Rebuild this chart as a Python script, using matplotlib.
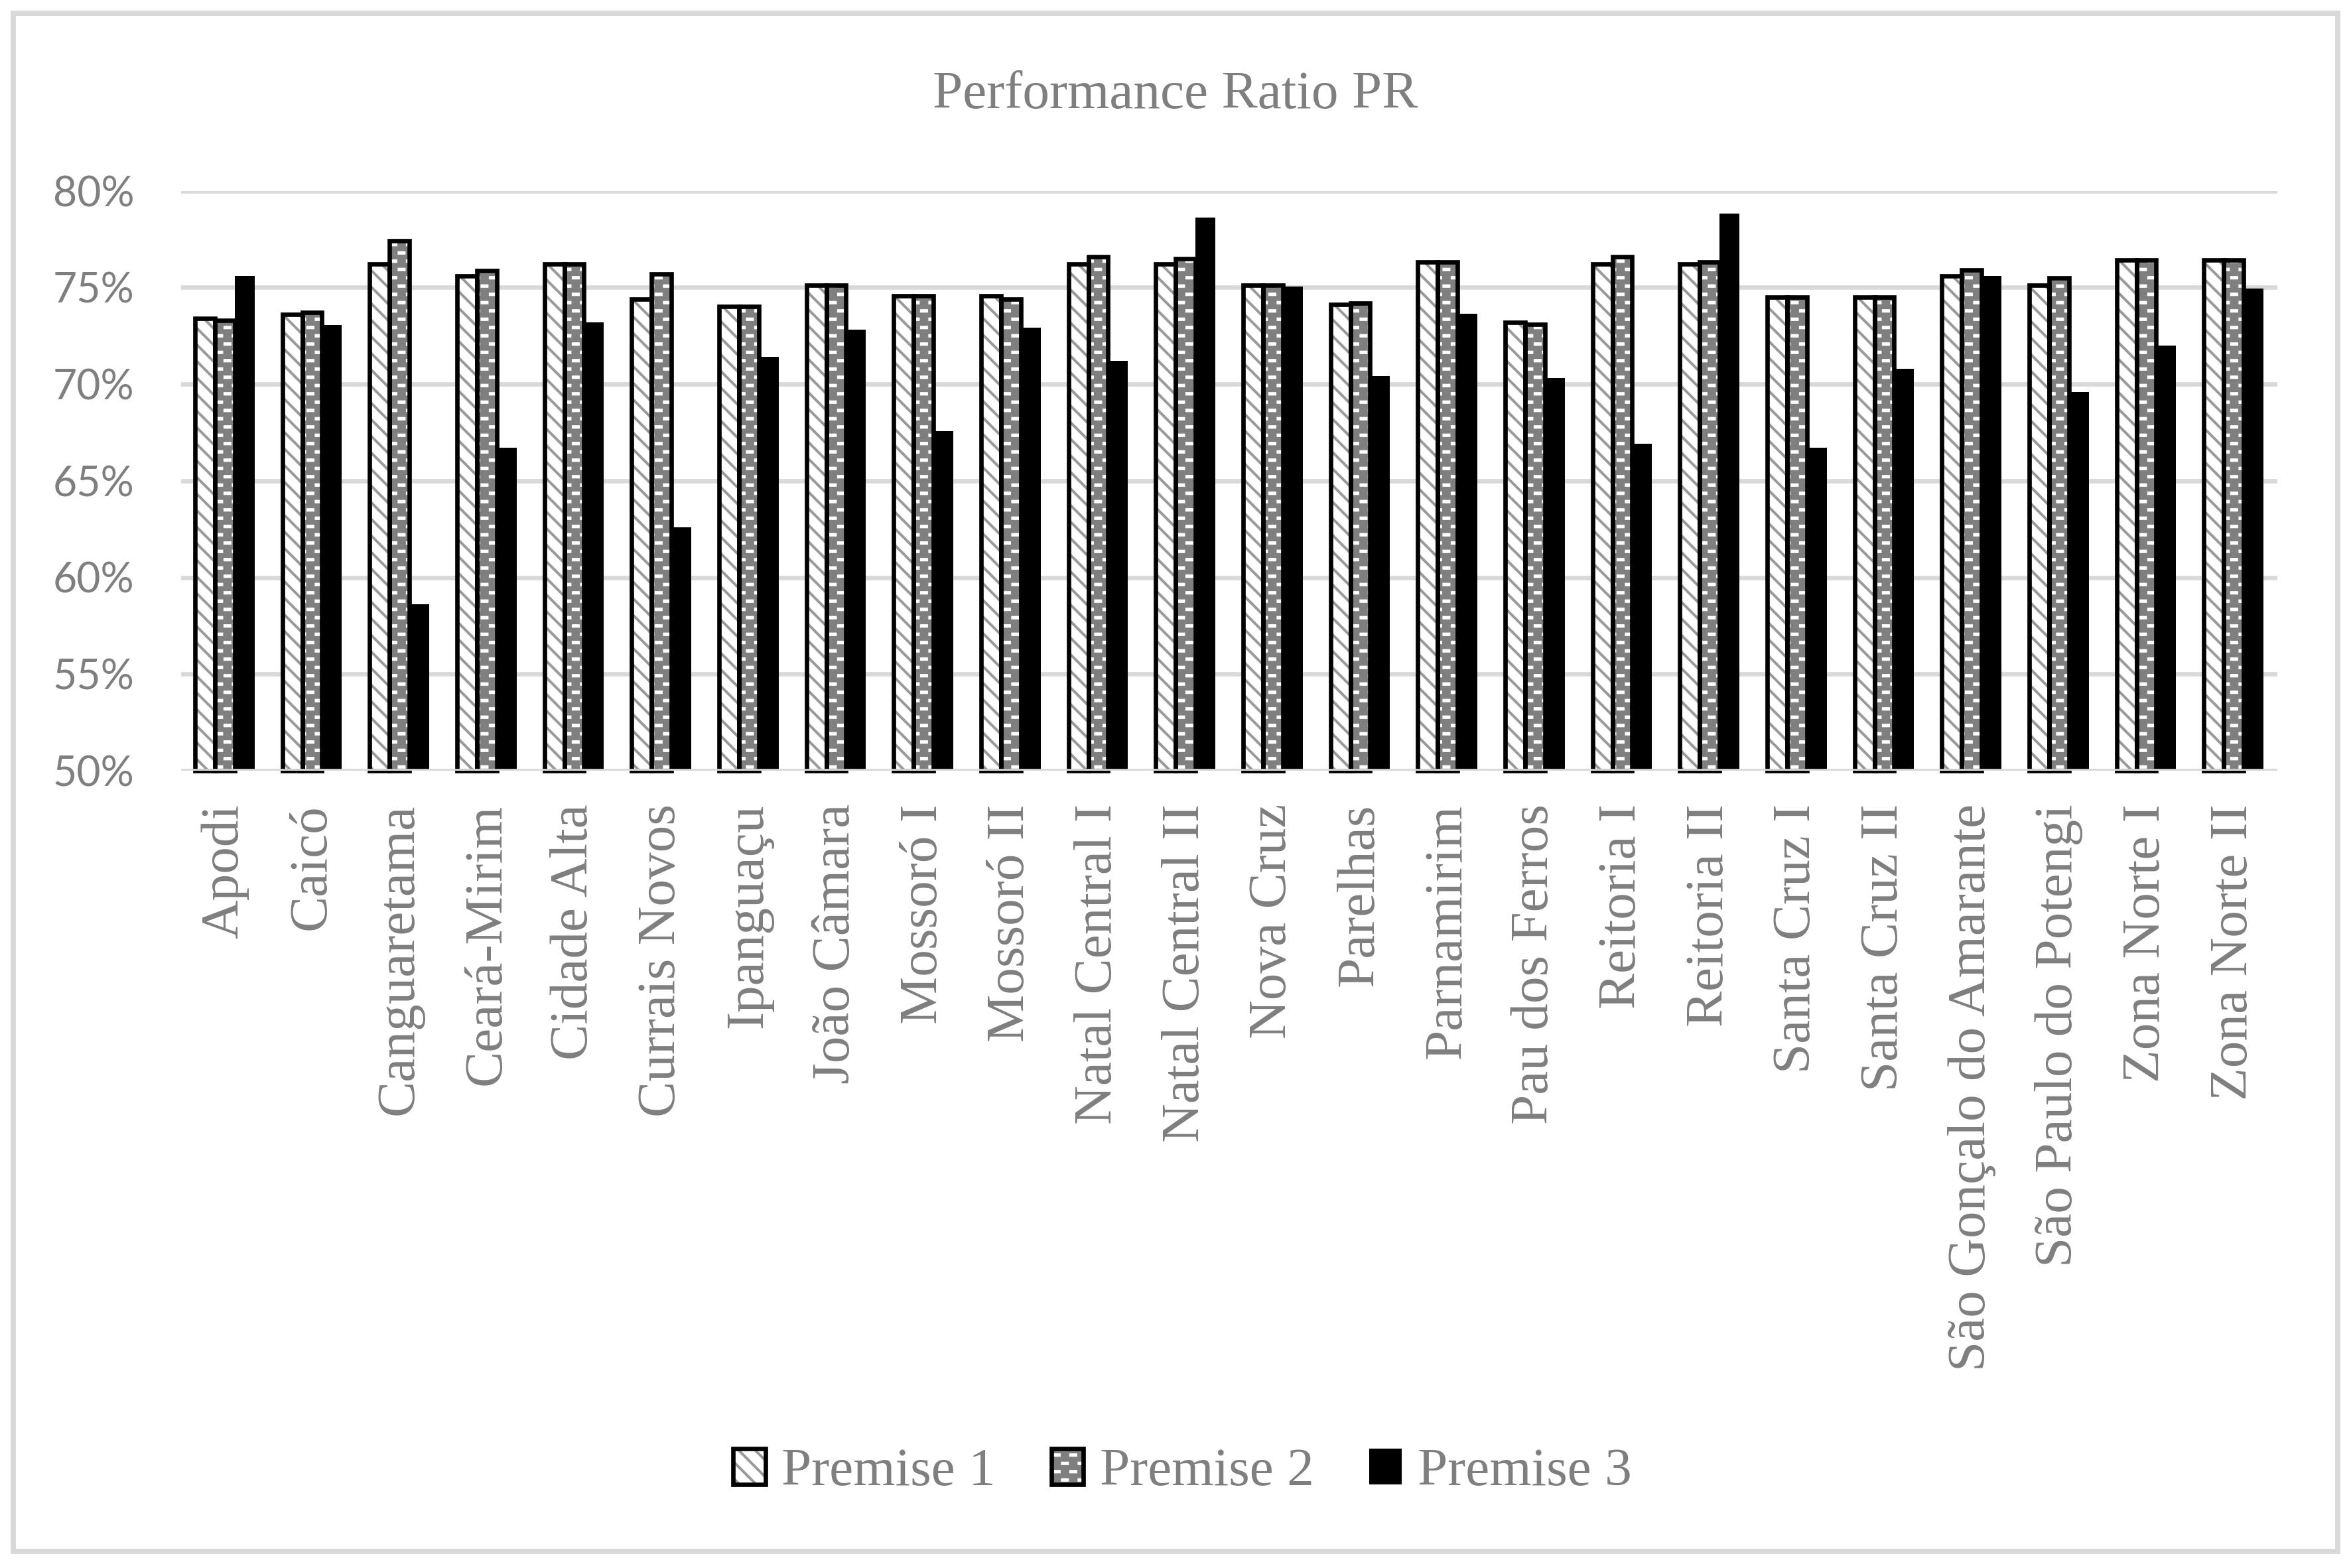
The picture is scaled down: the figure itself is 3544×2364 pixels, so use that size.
import matplotlib
matplotlib.use("Agg")
import matplotlib.pyplot as plt
import matplotlib.hatch as mhatch
from matplotlib.path import Path
from matplotlib.patches import Patch, Rectangle
import numpy as np

# ---------------- data ----------------
categories = ['Apodi', 'Caicó', 'Canguaretama', 'Ceará-Mirim', 'Cidade Alta',
              'Currais Novos', 'Ipanguaçu', 'João Câmara', 'Mossoró I', 'Mossoró II',
              'Natal Central I', 'Natal Central II', 'Nova Cruz', 'Parelhas',
              'Parnamirim', 'Pau dos Ferros', 'Reitoria I', 'Reitoria II',
              'Santa Cruz I', 'Santa Cruz II', 'São Gonçalo do Amarante',
              'São Paulo do Potengi', 'Zona Norte I', 'Zona Norte II']
premise1 = [73.4, 73.6, 76.2, 75.6, 76.2, 74.4, 74.0, 75.1, 74.55, 74.55, 76.2, 76.2,
            75.1, 74.1, 76.3, 73.2, 76.2, 76.2, 74.5, 74.5, 75.6, 75.1, 76.4, 76.4]
premise2 = [73.3, 73.7, 77.4, 75.85, 76.2, 75.7, 74.0, 75.1, 74.55, 74.4, 76.6, 76.5,
            75.1, 74.2, 76.3, 73.1, 76.6, 76.3, 74.5, 74.5, 75.9, 75.5, 76.4, 76.4]
premise3 = [75.6, 73.05, 58.6, 66.7, 73.2, 62.6, 71.4, 72.8, 67.55, 72.9, 71.2, 78.6,
            75.05, 70.4, 73.65, 70.3, 66.9, 78.8, 66.7, 70.8, 75.6, 69.6, 72.0, 74.95]
series_names = ['Premise 1', 'Premise 2', 'Premise 3']
yticks = [50, 55, 60, 65, 70, 75, 80]
ytick_labels = ['50%', '55%', '60%', '65%', '70%', '75%', '80%']
title = 'Performance Ratio PR'


# ---------------- custom fill patterns (Excel-like) ----------------
class DashedDownDiagonal(mhatch.HatchPatternBase):
    """Diagonal bands going down-right (used for hatch char 'o')."""
    def __init__(self, hatch, density):
        self.n = 12 if 'o' in hatch else 0
        self.num_vertices = (2 * self.n + 1) * 5 if self.n else 0

    def set_vertices_and_codes(self, vertices, codes):
        t = 0.013  # horizontal thickness of a band (unit = hatch tile)
        i = 0
        for k in range(2 * self.n + 1):
            c = k / self.n
            x0, x1 = -0.1, 1.1
            pts = [(x0, c - x0), (x1, c - x1), (x1 + t, c - x1), (x0 + t, c - x0), (x0, c - x0)]
            vertices[i:i + 5] = pts
            codes[i:i + 5] = [Path.MOVETO, Path.LINETO, Path.LINETO, Path.LINETO, Path.CLOSEPOLY]
            i += 5


class DashedHorizontal(mhatch.HatchPatternBase):
    """Brick pattern of short horizontal dashes (used for hatch char 'O')."""
    def __init__(self, hatch, density):
        self.cols = 12 if 'O' in hatch else 0
        self.rows = 24 if 'O' in hatch else 0
        self.num_vertices = (self.cols + 1) * self.rows * 5

    def set_vertices_and_codes(self, vertices, codes):
        w, h = 0.036, 0.013
        i = 0
        for r in range(self.rows):
            y = (r + 0.5) / self.rows
            shift = 0.5 * (r % 2)
            for c in range(self.cols + 1):
                x = (c - 0.5 + shift) / self.cols
                pts = [(x, y - h / 2), (x + w, y - h / 2), (x + w, y + h / 2),
                       (x, y + h / 2), (x, y - h / 2)]
                vertices[i:i + 5] = pts
                codes[i:i + 5] = [Path.MOVETO, Path.LINETO, Path.LINETO, Path.LINETO, Path.CLOSEPOLY]
                i += 5


mhatch._hatch_types[:] = [t for t in mhatch._hatch_types
                          if t not in (mhatch.SmallCircles, mhatch.LargeCircles)]
mhatch._hatch_types += [DashedDownDiagonal, DashedHorizontal]

# ---------------- style ----------------
TXT = '#7f7f7f'
GRID = '#d9d9d9'
SERIF = ['Liberation Serif', 'DejaVu Serif']
plt.rcParams['hatch.linewidth'] = 0.3

fig = plt.figure(figsize=(3544 / 300, 2364 / 300), dpi=300)
ax = fig.add_axes([273 / 3544, 1 - 1162 / 2364, (3433 - 273) / 3544, (1162 - 287.5) / 2364])

x = np.arange(len(categories))
w = 0.227
EDGE_LW = 1.6

h1_color = '#9a9a9a'
p2_face = '#7f7f7f'
# Premise 1: white with gray dashed diagonal pattern
ax.bar(x - w, np.array(premise1) - 50, w, bottom=50, facecolor='white',
       edgecolor=h1_color, linewidth=0, hatch='o', zorder=2)
ax.bar(x - w, np.array(premise1) - 50, w, bottom=50, facecolor='none',
       edgecolor='black', linewidth=EDGE_LW, zorder=3, clip_on=False)
# Premise 2: gray with white dashed horizontal pattern
ax.bar(x, np.array(premise2) - 50, w, bottom=50, facecolor=p2_face,
       edgecolor='white', linewidth=0, hatch='O', zorder=2)
ax.bar(x, np.array(premise2) - 50, w, bottom=50, facecolor='none',
       edgecolor='black', linewidth=EDGE_LW, zorder=3, clip_on=False)
# Premise 3: solid black
ax.bar(x + w, np.array(premise3) - 50, w, bottom=50, facecolor='black',
       edgecolor='none', linewidth=0, zorder=2)

ax.set_xlim(-0.5, len(categories) - 0.5)
ax.set_ylim(50, 80)
ax.set_yticks(yticks)
ax.set_yticklabels(ytick_labels, fontsize=15, color=TXT, family=['Lato', 'DejaVu Sans'])
ax.set_xticks(x)
ax.set_xticklabels(categories, rotation=90, fontsize=19.5, color=TXT, family=SERIF)
ax.tick_params(axis='both', length=0)
ax.tick_params(axis='y', pad=17)
ax.tick_params(axis='x', pad=12)
ax.yaxis.grid(True, color=GRID, linewidth=1.6)
ax.set_axisbelow(True)
ax.axhline(50, color=GRID, linewidth=1.6, zorder=4)
for s in ax.spines.values():
    s.set_visible(False)

fig.text(0.5, 1 - 144 / 2364, title, ha='center', va='center', fontsize=19.5,
         color=TXT, family=SERIF)

# legend
hP1 = (Patch(facecolor='white', edgecolor=h1_color, hatch='o', linewidth=0),
       Patch(facecolor='none', edgecolor='black', linewidth=EDGE_LW))
hP2 = (Patch(facecolor=p2_face, edgecolor='white', hatch='O', linewidth=0),
       Patch(facecolor='none', edgecolor='black', linewidth=EDGE_LW))
hP3 = Patch(facecolor='black', edgecolor='none')
leg = fig.legend([hP1, hP2, hP3], series_names, loc='center',
                 bbox_to_anchor=(0.503, 1 - 2220 / 2364), ncol=3, frameon=False,
                 prop={'family': SERIF, 'size': 19.5}, handlelength=0.6,
                 handleheight=0.66, handletextpad=0.3, columnspacing=1.03)
for t in leg.get_texts():
    t.set_color(TXT)

# outer frame
fig.patches.append(Rectangle((20 / 3544, 25 / 2364), (3523.5 - 20) / 3544,
                             (2364 - 20 - 25) / 2364, transform=fig.transFigure,
                             facecolor='none', edgecolor=GRID, linewidth=1.9))

fig.savefig('out.png', dpi=300)
